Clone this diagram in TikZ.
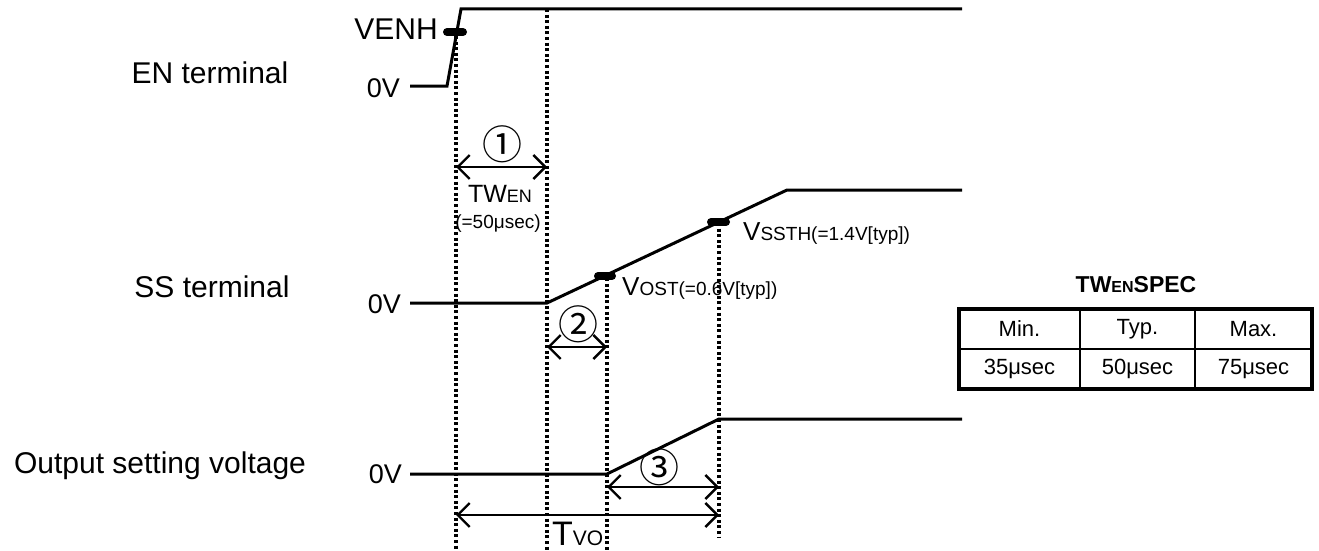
\documentclass[tikz,border=0pt]{standalone}
\usepackage{fontspec}
\setmainfont{Liberation Sans}
\newfontfamily\cjkjp{Noto Sans CJK JP}
\usetikzlibrary{arrows.meta}
\newcommand\fs[1]{\fontsize{#1}{#1}\selectfont}
\begin{document}
\begin{tikzpicture}[x=1pt,y=-1pt,
  wave/.style={line width=3pt,line join=miter},
  guide/.style={line width=3.4pt,dash pattern=on 3pt off 2.6pt},
  barb/.tip={Straight Barb[length=12pt,width=24pt,line width=2.4pt]},
  dim/.style={line width=2.6pt,barb-barb},
  thmark/.style={line width=8pt,line cap=round},
  lbl/.style={inner sep=0pt,font=\fs{30}},
  volt/.style={inner sep=0pt,font=\fs{27}},
  circ/.style={inner sep=0pt,font=\cjkjp\fs{40}},
  cell/.style={inner sep=0pt,font=\fs{22}},
  outer/.style={line width=3.2pt},
  inner/.style={line width=1.6pt}]
\useasboundingbox (0,0) rectangle (1319,551);

% row labels
\node[lbl,anchor=base] (en) at (210,84) {EN terminal};
\node[lbl,anchor=base] (ss) at (212,297) {SS terminal};
\node[lbl,anchor=base] (out) at (160,473) {Output setting voltage};

% level labels
\node[volt,anchor=base east] (en0) at (400,97) {0V};
\node[volt,anchor=base east] (ss0) at (401,313) {0V};
\node[volt,anchor=base east] (out0) at (402,483) {0V};
\node[lbl,anchor=base east] (venh) at (438,40) {VENH};

% key points
\coordinate (e0) at (410,86);
\coordinate (e1) at (447,86);
\coordinate (e2) at (461,9);
\coordinate (e3) at (962,9);
\coordinate (s0) at (410,303);
\coordinate (s1) at (547,303);
\coordinate (s2) at (787,190);
\coordinate (s3) at (962,190);
\coordinate (o0) at (410,474);
\coordinate (o1) at (607,474);
\coordinate (o2) at (719,419);
\coordinate (o3) at (962,419);

% guide lines
\coordinate (g1t) at (456,36);   \coordinate (g1b) at (456,551);
\coordinate (g2t) at (547,9);    \coordinate (g2b) at (547,551);
\coordinate (g3t) at (607,278);  \coordinate (g3b) at (607,551);
\coordinate (g4t) at (719,223);  \coordinate (g4b) at (719,538);
\draw[guide] (g1t) -- (g1b);
\draw[guide] (g2t) -- (g2b);
\draw[guide] (g3t) -- (g3b);
\draw[guide] (g4t) -- (g4b);

% waveforms
\draw[wave] (e0) -- (e1) -- (e2) -- (e3);
\draw[wave] (s0) -- (s1) -- (s2) -- (s3);
\draw[wave] (o0) -- (o1) -- (o2) -- (o3);

% threshold marks
\coordinate (m1a) at (447,32);  \coordinate (m1b) at (463,32);
\coordinate (m2a) at (598,276); \coordinate (m2b) at (612,276);
\coordinate (m3a) at (711,222); \coordinate (m3b) at (726,222);
\draw[thmark] (m1a) -- (m1b);
\draw[thmark] (m2a) -- (m2b);
\draw[thmark] (m3a) -- (m3b);

\node[inner sep=0pt,anchor=base west] (vost) at (622,295) {\fs{26}V\fs{19}OST(=0.6V[typ])};
\node[inner sep=0pt,anchor=base west] (vssth) at (743,240) {\fs{26}V\fs{19}SSTH(=1.4V[typ])};

% dimension arrows
\coordinate (a1l) at (456,167); \coordinate (a1r) at (547,167);
\coordinate (a2l) at (547,347); \coordinate (a2r) at (607,347);
\coordinate (a3l) at (607,487); \coordinate (a3r) at (719,487);
\coordinate (a4l) at (456,515); \coordinate (a4r) at (719,515);
\draw[dim] (a1l) -- (a1r);
\draw[dim] (a2l) -- (a2r);
\draw[dim] (a3l) -- (a3r);
\draw[dim] (a4l) -- (a4r);

\node[circ] (c1) at (502,144) {①};
\node[circ] (c2) at (578,324) {②};
\node[circ] (c3) at (659,467) {③};

\node[inner sep=0pt,anchor=base] (twen) at (500,202) {\fs{25}TW\fs{18}EN};
\node[inner sep=0pt,anchor=base] (twv) at (498,228) {\fs{19}(=50μsec)};
\node[inner sep=0pt,anchor=base west] (tvo) at (552,545) {\fs{34}T\fs{21}VO};

% spec table
\node[inner sep=0pt,anchor=base] (title) at (1136,292) {\bfseries\fs{23}TW\fs{16}EN\fs{23}SPEC};
\draw[inner] (1080,309) -- (1080,389);
\draw[inner] (1195,309) -- (1195,389);
\draw[inner] (959,349) -- (1312,349);
\draw[outer] (959,309) rectangle (1312,389);
\node[cell] (h1) at (1019.5,329) {Min.};
\node[cell] (h2) at (1137.5,329) {Typ.};
\node[cell] (h3) at (1253.5,329) {Max.};
\node[cell] (v1) at (1019.5,369) {35μsec};
\node[cell] (v2) at (1137.5,369) {50μsec};
\node[cell] (v3) at (1253.5,369) {75μsec};
\end{tikzpicture}
\end{document}
